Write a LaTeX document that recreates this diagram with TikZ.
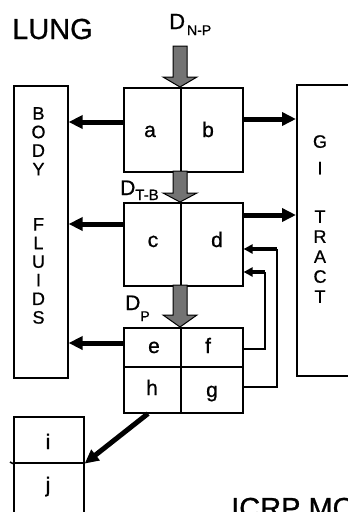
\documentclass[tikz,border=0pt]{standalone}
\usepackage{fontspec}
\setmainfont[FakeBold=0.8,AutoFakeBold=0.8]{Liberation Sans}
\usetikzlibrary{arrows.meta,calc}
\newcommand\grayarrow[3]{% start, tip, head length
  \path[garr] let \p1=(#1), \p2=(#2) in
    (\x1-7pt,\y1) -- (\x1-7pt,\y2+#3) -- (\x1-17pt,\y2+#3) -- (\x1,\y2)
    -- (\x1+17pt,\y2+#3) -- (\x1+7pt,\y2+#3) -- (\x1+7pt,\y1) -- cycle;}
\begin{document}
\begin{tikzpicture}[x=1pt,y=-1pt,
  cell/.style={draw,line width=1.6pt,inner sep=0pt,anchor=north west},
  bigarr/.style={line width=5pt,-{Triangle[length=14pt,width=13pt]}},
  smallarr/.style={line width=4pt,-{Triangle[length=9pt,width=9pt]}},
  fb/.style={line width=1.8pt},
  garr/.style={draw,line width=1pt,fill=black!55},
  lbl/.style={font=\fontsize{21}{21}\selectfont,inner sep=0pt,anchor=base},
  col/.style={align=center,inner sep=0pt,anchor=north},
  title/.style={font=\fontsize{29}{29}\selectfont,inner sep=0pt,anchor=base west},
  dlab/.style={inner sep=0pt,anchor=base west}
]
\useasboundingbox (0,0) rectangle (348,512);
\clip (0,0) rectangle (348,512);
\fill[white] (0,0) rectangle (348,512);

% side compartments
\node[cell,minimum width=54pt,minimum height=292pt] (body) at (13,85) {};
\node[cell,minimum width=110pt,minimum height=291pt] (gi) at (296,84) {};
\node[col,font=\fontsize{18}{18.6}\selectfont] (bodytxt) at (38.5,107)
  {B\\O\\D\\Y\\[36.6pt]F\\L\\U\\I\\D\\S};
\node[col,font=\fontsize{18}{20}\selectfont] (gitxt) at (320,135)
  {G\\[6.5pt]I\\[28.5pt]T\\R\\A\\C\\T};

% lung compartments
\node[cell,minimum width=57pt,minimum height=84pt] (a) at (123,87) {};
\node[cell,minimum width=62pt,minimum height=84pt] (b) at (180,87) {};
\node[cell,minimum width=57pt,minimum height=83pt] (c) at (123,202) {};
\node[cell,minimum width=62pt,minimum height=83pt] (d) at (180,202) {};
\node[cell,minimum width=57pt,minimum height=39pt] (e) at (123,327) {};
\node[cell,minimum width=62pt,minimum height=39pt] (f) at (180,327) {};
\node[cell,minimum width=57pt,minimum height=46pt] (h) at (123,366) {};
\node[cell,minimum width=62pt,minimum height=46pt] (g) at (180,366) {};
\node[cell,minimum width=70pt,minimum height=46pt] (i) at (13,416) {};
\node[cell,minimum width=70pt,minimum height=100pt] (j) at (13,462) {};
\draw[line width=1.6pt] (10,462) -- (i.south west);

\node[lbl] (la) at (150,137) {a};
\node[lbl] (lb) at (208,137) {b};
\node[lbl] (lc) at (153,247) {c};
\node[lbl] (ld) at (217,247) {d};
\node[lbl] (le) at (154,353) {e};
\node[lbl] (lf) at (208,353) {f};
\node[lbl] (lh) at (152,395) {h};
\node[lbl] (lg) at (212,397) {g};
\node[lbl] (li) at (48,449) {i};
\node[lbl] (lj) at (48,492) {j};

% titles and deposition labels
\node[title] (lung) at (12,39) {LUNG};
\node[title] (icrp) at (231,518) {ICRP MO};
\node[dlab,font=\fontsize{22}{22}\selectfont] (dnp) at (169,29) {D\kern2pt\raisebox{-6pt}{\fontsize{14}{14}\selectfont N-P}};
\node[dlab,font=\fontsize{21}{21}\selectfont] (dtb) at (120,195) {D\raisebox{-5pt}{\fontsize{15}{15}\selectfont T-B}};
\node[dlab,font=\fontsize{21}{21}\selectfont] (dp) at (125,310) {D\raisebox{-11pt}{\fontsize{14}{14}\selectfont P}};

% deposition (gray) arrows
\coordinate (s1) at (180,46);
\coordinate (s2) at (180,171);
\coordinate (s3) at (180,285);
\grayarrow{s1}{a.north east}{10pt}
\grayarrow{s2}{c.north east}{9pt}
\grayarrow{s3}{e.north east}{12pt}

% clearance arrows
\draw[bigarr] (a.west |- 0,122) -- (body.east |- 0,122);
\draw[bigarr] (b.east |- 0,119) -- (gi.west |- 0,119);
\draw[bigarr] (c.west |- 0,224) -- (body.east |- 0,224);
\draw[bigarr] (d.east |- 0,215) -- (gi.west |- 0,215);
\draw[bigarr] (e.west |- 0,343) -- (body.east |- 0,343);

% feedback from f and g to d
\coordinate (k1) at (265,272);
\coordinate (k2) at (277,249);
\draw[fb] (f.east |- 0,349) -| (k1);
\draw[smallarr] (k1) -- (d.east |- k1);
\draw[fb] (g.east |- 0,387) -| (k2);
\draw[smallarr] (k2) -- (d.east |- k2);

% h to lymph nodes
\draw[bigarr] (148,412 |- h.south) -- (i.south east);
\end{tikzpicture}
\end{document}
